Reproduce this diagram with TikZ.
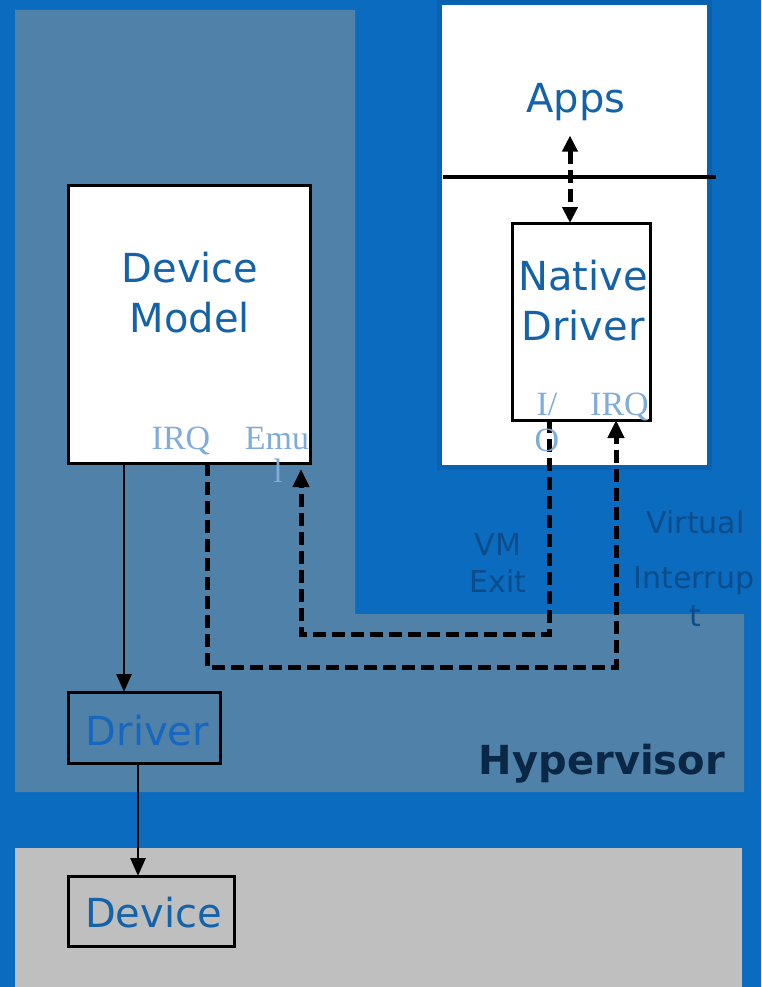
\documentclass[tikz,border=0pt]{standalone}
\usepackage{fontspec}
\setmainfont{DejaVu Sans}
\newfontfamily\portfont{Liberation Serif}
\usetikzlibrary{arrows.meta}

\definecolor{bgblue}{HTML}{0A6BBF}
\definecolor{frameblue}{HTML}{0862B0}
\definecolor{hyperfill}{HTML}{5081A8}
\definecolor{hwgrey}{HTML}{BFBFBF}
\definecolor{titleblue}{HTML}{1462A8}
\definecolor{drvblue}{HTML}{1767C0}
\definecolor{navy}{HTML}{0A2745}
\definecolor{notedark}{HTML}{0C4C8A}
\definecolor{portblue}{HTML}{7FACDA}

\tikzset{
  box/.style={draw=black, line width=3pt, inner sep=0pt, outer sep=0pt},
  bigtext/.style={inner sep=0pt, anchor=base, font=\fontsize{40}{50}\selectfont},
  notetext/.style={inner sep=0pt, anchor=base, text=notedark, font=\fontsize{30}{36}\selectfont},
  porttext/.style={inner sep=0pt, anchor=base, text=portblue, font=\portfont\fontsize{34}{38}\selectfont},
  solidarrow/.style={draw=black, line width=2.5pt, -{Triangle[length=18pt, width=15pt]}},
  dasharrow/.style={draw=black, line width=5pt, dash pattern=on 13pt off 6pt,
    -{Triangle[length=18pt, width=16pt]}},
  twowayarrow/.style={draw=black, line width=5pt, dash pattern=on 13pt off 6pt,
    {Triangle[length=16pt, width=15pt]}-{Triangle[length=16pt, width=15pt]}},
  sepline/.style={draw=black, line width=4.5pt},
}

\begin{document}
\begin{tikzpicture}[x=1pt, y=-1pt]
  % canvas
  \fill[bgblue] (0,0) rectangle (761,987);
  \useasboundingbox (0,0) rectangle (761,987);

  % hypervisor layer (L-shaped)
  \fill[hyperfill] (15,10) -- (355,10) -- (355,614) -- (744,614)
        -- (744,792) -- (15,792) -- cycle;

  % hardware layer
  \fill[hwgrey] (15,848) rectangle (742,987);

  % guest VM
  \fill[frameblue] (437,0) rectangle (712,470);
  \fill[white] (442,5) rectangle (707,465);
  \draw[sepline] (443,177) -- (716,177);

  % boxes
  \node[box, fill=white, minimum width=242pt, minimum height=277pt] (dm) at (189,324.5) {};
  \node[box, fill=white, minimum width=138pt, minimum height=197pt] (nd) at (581,321.5) {};
  \node[box, minimum width=152pt, minimum height=71pt] (drv) at (144,727.5) {};
  \node[box, minimum width=166pt, minimum height=70pt] (dev) at (151,911) {};

  % box titles
  \node[bigtext, text=titleblue] (apps) at (576,113) {Apps};
  \node[bigtext, text=titleblue] (dmA) at (190,282) {Device};
  \node[bigtext, text=titleblue] (dmB) at (190,332) {Model};
  \node[bigtext, text=titleblue] (ndA) at (583,290) {Native};
  \node[bigtext, text=titleblue] (ndB) at (583,340) {Driver};
  \node[bigtext, text=drvblue] (drvlabel) at (147.5,745) {Driver};
  \node[bigtext, text=titleblue] (devlabel) at (153.5,927) {Device};
  \node[bigtext, anchor=base east, text=navy, font=\bfseries\fontsize{40}{50}\selectfont]
        (hyp) at (725,774) {Hypervisor};

  % solid data path
  \draw[solidarrow] ([xshift=56pt]dm.south west) -- ([xshift=56pt]drv.north west);
  \draw[solidarrow] ([xshift=70pt]drv.south west) -- ([xshift=70pt]dev.north west);

  % apps <-> native driver
  \draw[twowayarrow] ([xshift=-6pt,yshift=-14pt]apps.south) -- ([xshift=58pt]nd.north west);

  % VM exit path: native driver I/O -> device model emulation
  \coordinate (exitturn) at (400,634);
  \draw[dasharrow] ([xshift=37pt]nd.south west) |- (exitturn)
        -| ([xshift=233pt,yshift=-6pt]dm.south west);

  % virtual interrupt path: device model IRQ -> native driver IRQ
  \coordinate (irqturn) at (400,667);
  \draw[dasharrow] ([xshift=139pt]dm.south west) |- (irqturn)
        -| ([xshift=104pt]nd.south west);

  % port labels
  \node[porttext] (dmirq) at (181,449) {IRQ};
  \node[porttext] (emuA) at (277,449) {Emu};
  \node[porttext] (emuB) at (278,482) {l};
  \node[porttext] (ioA) at (547,415) {I/};
  \node[porttext] (ioB) at (547,451) {O};
  \node[porttext] (ndirq) at (619.5,415) {IRQ};

  % path labels
  \node[notetext] (vmA) at (498,555) {VM};
  \node[notetext] (vmB) at (498,592) {Exit};
  \node[notetext] (viA) at (695.5,533) {Virtual};
  \node[notetext] (viB) at (694,588) {Interrup};
  \node[notetext] (viC) at (695,626) {t};
\end{tikzpicture}
\end{document}
